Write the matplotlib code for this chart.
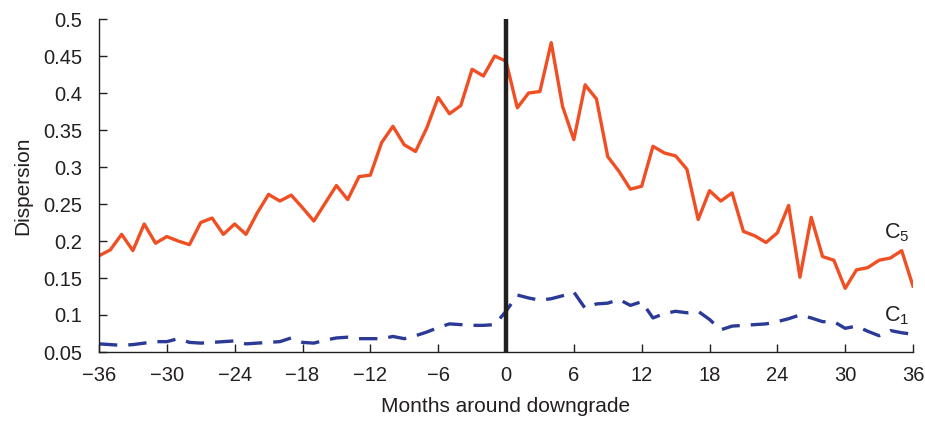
import numpy as np
import matplotlib.pyplot as plt

plt.rcParams['font.family'] = ['Liberation Sans', 'DejaVu Sans']
plt.rcParams['mathtext.default'] = 'regular'

months = np.arange(-36, 37)

c5 = [0.180, 0.188, 0.209, 0.187, 0.223, 0.197, 0.206, 0.200, 0.195, 0.225,
      0.231, 0.209, 0.223, 0.209, 0.238, 0.263, 0.254, 0.262, 0.245, 0.227,
      0.251, 0.275, 0.256, 0.287, 0.289, 0.333, 0.355, 0.330, 0.321, 0.353,
      0.394, 0.372, 0.383, 0.432, 0.423, 0.450, 0.443,
      0.380, 0.400, 0.402, 0.468, 0.382, 0.337, 0.411, 0.392, 0.314, 0.294,
      0.270, 0.274, 0.328, 0.319, 0.315, 0.297, 0.229, 0.268, 0.254, 0.265,
      0.213, 0.207, 0.198, 0.211, 0.248, 0.151, 0.232, 0.179, 0.174, 0.136,
      0.161, 0.164, 0.174, 0.177, 0.187, 0.139]

c1 = [0.061, 0.060, 0.059, 0.060, 0.062, 0.064, 0.064, 0.068, 0.063, 0.062,
      0.063, 0.064, 0.065, 0.061, 0.062, 0.063, 0.064, 0.069, 0.063, 0.062,
      0.066, 0.069, 0.070, 0.068, 0.068, 0.068, 0.071, 0.068, 0.072, 0.077,
      0.083, 0.088, 0.087, 0.086, 0.086, 0.087, 0.105,
      0.127, 0.123, 0.120, 0.122, 0.126, 0.131, 0.109, 0.115, 0.116, 0.121,
      0.113, 0.118, 0.096, 0.102, 0.105, 0.103, 0.105, 0.094, 0.080, 0.085,
      0.086, 0.087, 0.088, 0.091, 0.095, 0.100, 0.096, 0.091, 0.091, 0.082,
      0.085, 0.078, 0.072, 0.079, 0.076, 0.074]

xticks = np.arange(-36, 37, 6)
yticks = [0.05, 0.1, 0.15, 0.2, 0.25, 0.3, 0.35, 0.4, 0.45, 0.5]

fig = plt.figure(figsize=(9.25, 4.24), dpi=100)
ax = fig.add_axes([99/925, 1 - 352/424, (913 - 99)/925, (352 - 19)/424])

ax.plot(months, c5, color='#F04E23', lw=2.4)
ax.plot(months, c1, color='#2B3A96', lw=2.4, dashes=(5.5, 3.3))
ax.vlines(0, 0.05, 0.5, color='#231F20', lw=3.2, zorder=3)

ax.text(33.4, 0.203, 'C$_5$', fontsize=15.5, ha='left', va='baseline', color='#231F20')
ax.text(33.4, 0.092, 'C$_1$', fontsize=15.5, ha='left', va='baseline', color='#231F20')

ax.set_xlim(-36, 36)
ax.set_ylim(0.05, 0.5)
ax.set_xticks(xticks)
ax.set_xticklabels([str(t).replace('-', '\u2212') for t in xticks])
ax.set_yticks(yticks)
ax.set_yticklabels([f'{t:g}' for t in yticks])
ax.tick_params(labelsize=14.5, colors='#231F20', length=6, width=1, direction='in')
ax.tick_params(axis='x', pad=10)
ax.tick_params(axis='y', pad=12)
ax.spines['top'].set_visible(False)
ax.spines['right'].set_visible(False)
for s in ['left', 'bottom']:
    ax.spines[s].set_color('#231F20')
    ax.spines[s].set_linewidth(1)

ax.set_xlabel('Months around downgrade', fontsize=15, color='#231F20', labelpad=9)
ax.set_ylabel('Dispersion', fontsize=15, color='#231F20', labelpad=8)

fig.savefig('out.png', dpi=100)
